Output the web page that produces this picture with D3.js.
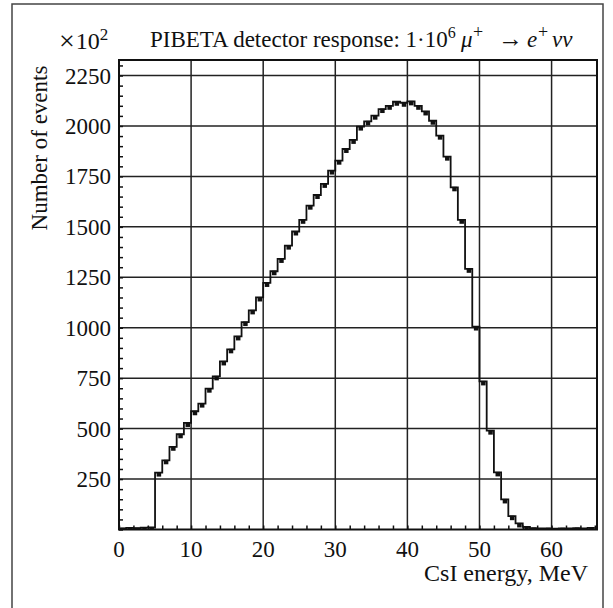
<!DOCTYPE html>
<html>
<head>
<meta charset="utf-8">
<script src="https://cdn.jsdelivr.net/npm/d3@7"></script>
<style>
  html, body { margin: 0; padding: 0; background: #fff; }
  svg { display: block; }
  text { font-family: "Liberation Serif", "DejaVu Serif", serif; fill: #111; }
</style>
</head>
<body>
<svg id="chart" width="613" height="608"></svg>
<script>
// CsI energy histogram, 1 MeV bins from 0 to 66 MeV (counts in units of 10^2)
const binEdgesStart = d3.range(0, 66);
const binWidth = 1;
const counts = [
  6, 8, 7, 9, 10,
  282, 343, 410, 472, 528,
  586, 624, 698, 759, 833,
  893, 957, 1028, 1086, 1150,
  1222, 1280, 1341, 1407, 1477,
  1535, 1605, 1658, 1713, 1779,
  1828, 1886, 1931, 1997, 2023,
  2051, 2084, 2100, 2120, 2115,
  2122, 2100, 2072, 2026, 1952,
  1848, 1696, 1535, 1292, 1006,
  734, 490, 283, 149, 66,
  30, 13, 7, 5, 6,
  4, 6, 5, 7, 5, 8
];
const yTicks = [250, 500, 750, 1000, 1250, 1500, 1750, 2000, 2250];
const xTicks = [0, 10, 20, 30, 40, 50, 60];

const svg = d3.select("#chart");
const mLeft = 119, mRight = 597, mTop = 60, mBottom = 529.5;

const x = d3.scaleLinear().domain([0, 66.3]).range([mLeft, mRight]);
const y = d3.scaleLinear().domain([0, 2327]).range([mBottom, mTop]);

// outer frame
svg.append("rect")
  .attr("x", 12).attr("y", 4).attr("width", 591).attr("height", 610)
  .attr("fill", "none").attr("stroke", "#444").attr("stroke-width", 1.5);

// grid
const grid = svg.append("g").attr("stroke", "#222").attr("stroke-width", 1.5);
grid.selectAll("line.v").data(xTicks.filter(d => d > 0)).join("line").attr("class", "v")
  .attr("x1", d => x(d)).attr("x2", d => x(d)).attr("y1", mTop).attr("y2", mBottom);
grid.selectAll("line.h").data(yTicks).join("line").attr("class", "h")
  .attr("x1", mLeft).attr("x2", mRight).attr("y1", d => y(d)).attr("y2", d => y(d));

// axes with inward minor ticks
const yAxis = svg.append("g").attr("transform", `translate(${mLeft},0)`)
  .call(d3.axisRight(y).tickValues(d3.range(0, 2327, 50)).tickSize(4).tickFormat(""));
const xAxis = svg.append("g").attr("transform", `translate(0,${mBottom})`)
  .call(d3.axisTop(x).tickValues(d3.range(0, 67, 2)).tickSize(4).tickFormat(""));
[yAxis, xAxis].forEach(g => {
  g.select(".domain").remove();
  g.selectAll(".tick line").attr("stroke", "#111").attr("stroke-width", 1.5);
});

// plot frame
svg.append("rect")
  .attr("x", mLeft).attr("y", mTop).attr("width", mRight - mLeft).attr("height", mBottom - mTop)
  .attr("fill", "none").attr("stroke", "#111").attr("stroke-width", 2);

// tick labels
svg.append("g").selectAll("text").data(yTicks).join("text")
  .attr("x", mLeft - 8).attr("y", d => y(d)).attr("dy", "0.35em")
  .attr("text-anchor", "end").attr("font-size", 23)
  .text(d => d);
svg.append("g").selectAll("text").data(xTicks).join("text")
  .attr("x", d => x(d)).attr("y", mBottom + 27)
  .attr("text-anchor", "middle").attr("font-size", 23)
  .text(d => d);

// histogram
svg.append("clipPath").attr("id", "plotclip")
  .append("rect").attr("x", mLeft).attr("y", mTop).attr("width", mRight - mLeft).attr("height", mBottom - mTop);
const pts = binEdgesStart.map((e, i) => [e, counts[i]]);
pts.push([binEdgesStart[binEdgesStart.length - 1] + binWidth, counts[counts.length - 1]]);
const line = d3.line().x(d => x(d[0])).y(d => y(d[1])).curve(d3.curveStepAfter);
const hist = svg.append("g").attr("clip-path", "url(#plotclip)");
hist.append("path").datum(pts).attr("d", line)
  .attr("fill", "none").attr("stroke", "#111").attr("stroke-width", 1.8);
hist.selectAll("rect.pt").data(binEdgesStart).join("rect").attr("class", "pt")
  .attr("x", d => x(d + binWidth / 2) - 2)
  .attr("y", (d, i) => y(counts[i]) - 0.5)
  .attr("width", 4.5).attr("height", 4.5)
  .attr("fill", "#111");

// multiplier label and title
svg.append("text").attr("x", 59).attr("y", 49).attr("font-size", 24)
  .html('<tspan font-size="28" dy="1">×</tspan><tspan dy="-1" dx="1">10</tspan><tspan dy="-9" font-size="17">2</tspan>');
const title = svg.append("text").attr("y", 47).attr("font-size", 23);
title.append("tspan").attr("x", 150).text("PIBETA detector response: 1·10");
title.append("tspan").attr("dy", -9).attr("font-size", 16).text("6");
title.append("tspan").attr("x", 461).attr("dy", 9).attr("font-style", "italic").text("μ");
title.append("tspan").attr("x", 473).attr("dy", -9).attr("font-size", 18).text("+");
title.append("tspan").attr("x", 498).attr("dy", 9).attr("font-size", 25).text("→");
title.append("tspan").attr("x", 527).attr("font-style", "italic").text("e");
title.append("tspan").attr("x", 538).attr("dy", -9).attr("font-size", 18).text("+");
title.append("tspan").attr("x", 552).attr("dy", 9).attr("font-style", "italic").text("νν");

svg.append("text")
  .attr("transform", "translate(47,148) rotate(-90)")
  .attr("text-anchor", "middle").attr("font-size", 23)
  .text("Number of events");
svg.append("text").attr("x", 588).attr("y", 581).attr("text-anchor", "end")
  .attr("font-size", 24).text("CsI energy, MeV");
</script>
</body>
</html>
